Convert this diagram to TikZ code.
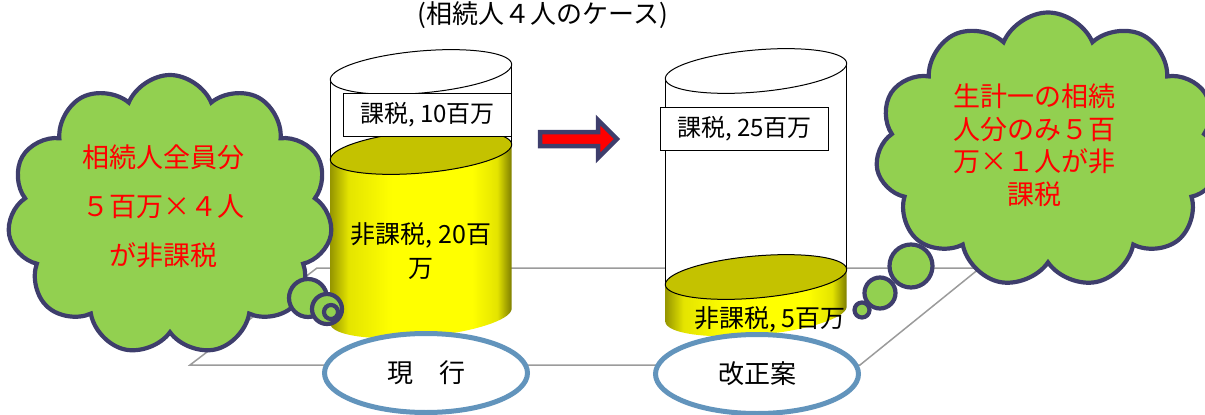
\documentclass[tikz,border=0pt]{standalone}
\usepackage{fontspec}
\newfontfamily\jp{Noto Sans CJK JP}
\usetikzlibrary{shapes.geometric, shapes.symbols}

\definecolor{cloudgreen}{RGB}{146,208,80}
\definecolor{cloudline}{RGB}{62,62,108}
\definecolor{ringblue}{RGB}{98,148,188}
\definecolor{floorgray}{RGB}{155,155,155}
\definecolor{drumtop}{RGB}{196,194,0}
\definecolor{drumedge}{RGB}{150,150,0}
\definecolor{drumlight}{RGB}{228,228,0}
\definecolor{drumrim}{RGB}{125,125,0}

% side of the filled part: dark rims, bright middle
\pgfdeclarehorizontalshading{drumside}{100bp}{color(0bp)=(drumedge); color(25bp)=(drumedge); color(30bp)=(drumlight); color(42bp)=(yellow); color(64bp)=(yellow); color(71bp)=(drumlight); color(75bp)=(drumrim); color(100bp)=(drumrim)}

\begin{document}
\begin{tikzpicture}[x=1pt, y=-1pt,
    declare function={rimx(\p)=91*cos(\p)*cos(-5)-21*sin(\p)*sin(-5);
                      rimy(\p)=91*cos(\p)*sin(-5)+21*sin(\p)*cos(-5);},
    labelbox/.style={draw, line width=1.2pt, fill=white, minimum width=168pt, minimum height=43pt, inner sep=0pt, font={\jp\fontsize{24}{28}\selectfont}},
    drumtext/.style={align=center, font={\jp\fontsize{25}{34}\selectfont}},
    bubble/.style={cloud, cloud puffs=11, cloud puff arc=135, draw=cloudline, line width=4.2pt, fill=cloudgreen},
    puff/.style={circle, draw=cloudline, line width=4.2pt, fill=cloudgreen, inner sep=0pt},
    bubbletext/.style={text=red, align=center},
    casering/.style={ellipse, draw=ringblue, line width=5pt, fill=white, minimum width=203pt, minimum height=79pt, font={\jp\fontsize{26}{30}\selectfont}}]

    \useasboundingbox (0,0) rectangle (1205,415);
    \clip (0,0) rectangle (1205,415);

    % Heading
    \node[font={\jp\fontsize{26}{30}\selectfont}] (title) at (543,15) {(相続人４人のケース)};

    % Floor plate
    \draw[floorgray, line width=1.5pt] (190,365) -- (317,268) -- (980,268) -- (860,365) -- cycle;

    % The two drums: empty part, filled part, lids
    \foreach \cx/\yt/\yf/\yb in {421/72/152/316, 756/71/277/314} {
        \fill[white] (\cx-90.65,\yt+7.93) -- (\cx-90.65,\yf+7.93) -- (\cx+90.65,\yf-7.93) -- (\cx+90.65,\yt-7.93) -- cycle;
        \draw[line width=1pt] (\cx-90.65,\yt+7.93) -- (\cx-90.65,\yf+7.93) (\cx+90.65,\yt-7.93) -- (\cx+90.65,\yf-7.93);
        \shade[shading=drumside] (\cx-90.65,\yf+7.93) -- plot[domain=180:0, samples=37] ({\cx+rimx(\x)},{\yb+rimy(\x)}) -- (\cx+90.65,\yf-7.93) -- cycle;
        \draw[fill=drumtop, line width=1pt] plot[domain=0:360, samples=73] ({\cx+rimx(\x)},{\yf+rimy(\x)}) -- cycle;
        \draw[fill=white, line width=1pt] plot[domain=0:360, samples=73] ({\cx+rimx(\x)},{\yt+rimy(\x)}) -- cycle;
    }

    % Amounts
    \node[labelbox] (taxnow) at (427.5,115) {課税, 10百万};
    \node[drumtext] (freenow) at (421,251) {非課税, 20百\\万};
    \node[labelbox] (taxnew) at (744.5,129) {課税, 25百万};
    \node[drumtext] (freenew) at (770,319) {非課税, 5百万};

    % Block arrow between the drums
    \draw[cloudline, line width=4.5pt, fill=red] (540,132) -- (598,132) -- (598,120) -- (617,139) -- (598,158) -- (598,146) -- (540,146) -- cycle;

    % Thought bubbles
    \node[bubble, minimum width=325pt, minimum height=280pt] (nowcloud) at (170,215) {};
    \node[puff, minimum size=38pt] (nowpuffa) at (308,298) {};
    \node[puff, minimum size=30pt] (nowpuffb) at (327,309) {};
    \node[puff, minimum size=14pt] (nowpuffc) at (331,312) {};
    \node[bubbletext, font={\jp\fontsize{27}{49}\selectfont}] (nowsay) at (163,206) {相続人全員分\\５百万×４人\\が非課税};

    \node[bubble, minimum width=345pt, minimum height=275pt] (newcloud) at (1048,150) {};
    \node[puff, minimum size=43pt] (newpuffa) at (911,266) {};
    \node[puff, minimum size=31pt] (newpuffb) at (880,293) {};
    \node[puff, minimum size=15pt] (newpuffc) at (862,310) {};
    \node[bubbletext, font={\jp\fontsize{27}{32.5}\selectfont}] (newsay) at (1034,145) {生計一の相続\\人分のみ５百\\万×１人が非\\課税};

    % Case labels
    \node[casering] (now) at (426,373) {現\quad 行};
    \node[casering] (new) at (757,374) {改正案};
\end{tikzpicture}
\end{document}
